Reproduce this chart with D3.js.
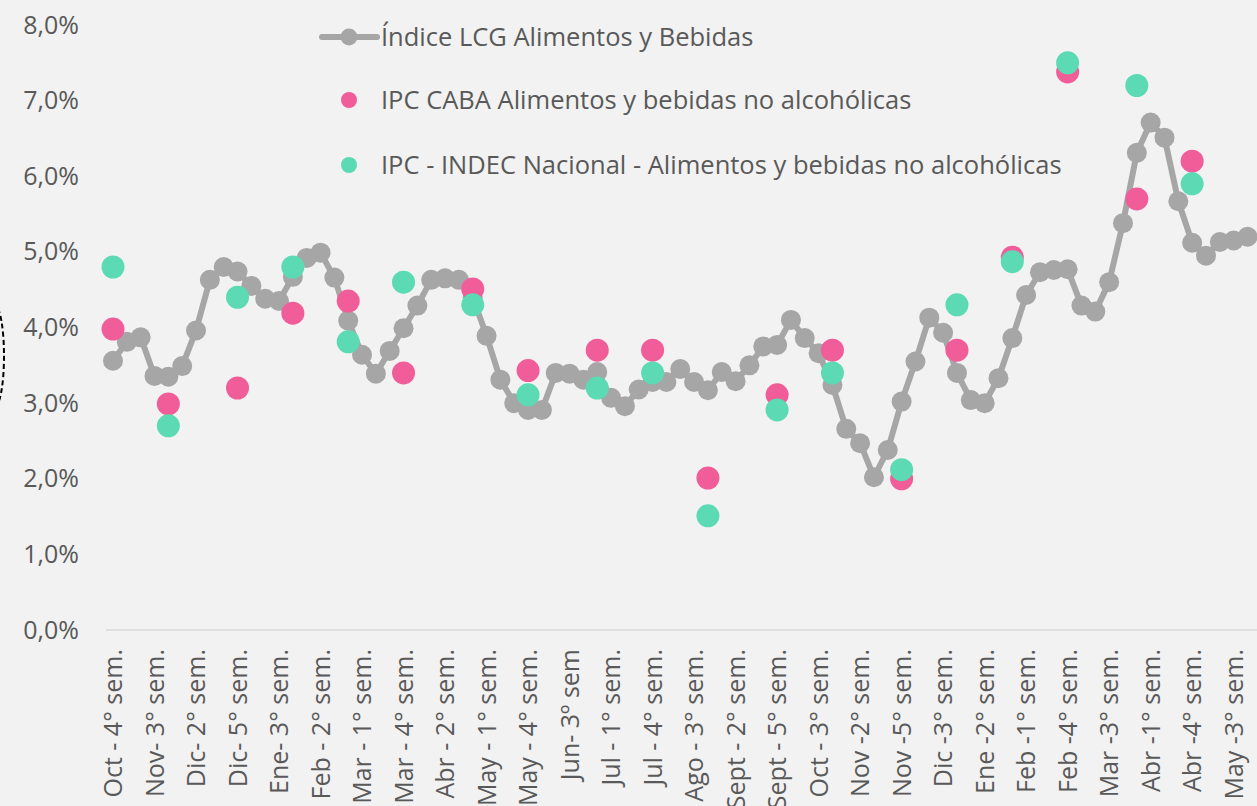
<!DOCTYPE html>
<html>
<head>
<meta charset="utf-8">
<script src="https://cdn.jsdelivr.net/npm/d3@7"></script>
<style>
  html, body { margin: 0; padding: 0; background: #f2f2f2; }
  svg { display: block; font-family: "Open Sans", sans-serif; }
</style>
</head>
<body>
<script>
// semanas (solo se rotula una de cada tres)
const categorias = [
  "Oct - 4° sem.", "Nov - 1° sem.", "Nov - 2° sem.", "Nov- 3° sem.", "Nov - 4° sem.",
  "Dic - 1° sem.", "Dic- 2° sem.", "Dic - 3° sem.", "Dic - 4° sem.", "Dic- 5° sem.",
  "Ene - 1° sem.", "Ene - 2° sem.", "Ene- 3° sem.", "Ene - 4° sem.", "Feb - 1° sem.",
  "Feb - 2° sem.", "Feb - 3° sem.", "Feb - 4° sem.", "Mar - 1° sem.", "Mar - 2° sem.",
  "Mar - 3° sem.", "Mar - 4° sem.", "Mar - 5° sem.", "Abr - 1° sem.", "Abr - 2° sem.",
  "Abr - 3° sem.", "Abr - 4° sem.", "May - 1° sem.", "May - 2° sem.", "May - 3° sem.",
  "May - 4° sem.", "Jun - 1° sem.", "Jun - 2° sem.", "Jun- 3º sem", "Jun - 4° sem.",
  "Jun - 5° sem.", "Jul - 1° sem.", "Jul - 2° sem.", "Jul - 3° sem.", "Jul - 4° sem.",
  "Ago - 1° sem.", "Ago - 2° sem.", "Ago - 3° sem.", "Ago - 4° sem.", "Sept - 1° sem.",
  "Sept - 2° sem.", "Sept - 3° sem.", "Sept - 4° sem.", "Sept - 5° sem.", "Oct - 1° sem.",
  "Oct - 2° sem.", "Oct - 3° sem.", "Oct - 4° sem.", "Nov - 1° sem.", "Nov -2° sem.",
  "Nov -3° sem.", "Nov -4° sem.", "Nov -5° sem.", "Dic -1° sem.", "Dic -2° sem.",
  "Dic -3° sem.", "Dic -4° sem.", "Ene -1° sem.", "Ene -2° sem.", "Ene -3° sem.",
  "Ene -4° sem.", "Feb -1° sem.", "Feb -2° sem.", "Feb -3° sem.", "Feb -4° sem.",
  "Mar -1° sem.", "Mar -2° sem.", "Mar -3° sem.", "Mar -4° sem.", "Mar -5° sem.",
  "Abr -1° sem.", "Abr -2° sem.", "Abr -3° sem.", "Abr -4° sem.", "May -1° sem.",
  "May -2° sem.", "May -3° sem.", "May -4° sem."
];

// Índice LCG semanal (%)
const lcg = [
  3.56, 3.81, 3.87, 3.36, 3.35, 3.49, 3.96, 4.63, 4.80, 4.74,
  4.55, 4.38, 4.35, 4.67, 4.92, 4.99, 4.66, 4.09, 3.64, 3.39,
  3.69, 3.99, 4.29, 4.63, 4.65, 4.63, 4.40, 3.89, 3.31, 3.00,
  2.91, 2.91, 3.40, 3.39, 3.31, 3.41, 3.07, 2.96, 3.18, 3.28,
  3.28, 3.45, 3.28, 3.17, 3.41, 3.29, 3.50, 3.75, 3.77, 4.10,
  3.86, 3.66, 3.24, 2.66, 2.47, 2.02, 2.38, 3.02, 3.55, 4.13,
  3.93, 3.40, 3.04, 3.00, 3.33, 3.86, 4.43, 4.73, 4.76, 4.77,
  4.29, 4.21, 4.60, 5.38, 6.31, 6.71, 6.51, 5.67, 5.12, 4.95,
  5.13, 5.15, 5.20
];

// IPC mensual, ubicado en la última semana de cada mes
const ipcSemana = [0, 4, 9, 13, 17, 21, 26, 30, 35, 39, 43, 48, 52, 57, 61, 65, 69, 74, 78];
const ipcCaba = [3.98, 2.99, 3.20, 4.19, 4.35, 3.40, 4.51, 3.43, 3.70, 3.70, 2.01, 3.11, 3.70, 2.00, 3.70, 4.93, 7.38, 5.70, 6.20];
const ipcIndec = [4.80, 2.70, 4.40, 4.80, 3.81, 4.60, 4.30, 3.11, 3.20, 3.40, 1.51, 2.91, 3.40, 2.12, 4.30, 4.87, 7.50, 7.20, 5.90];

const yTicks = [0, 1, 2, 3, 4, 5, 6, 7, 8];

const series = [
  { nombre: "Índice LCG Alimentos y Bebidas", color: "#a6a6a6" },
  { nombre: "IPC CABA Alimentos y bebidas no alcohólicas", color: "#f05d98" },
  { nombre: "IPC - INDEC Nacional - Alimentos y bebidas no alcohólicas", color: "#5bdab4" }
];

const width = 1257, height = 806;
const textColor = "#595959";

const svg = d3.select("body").append("svg")
  .attr("width", width)
  .attr("height", height);

svg.append("rect").attr("width", width).attr("height", height).attr("fill", "#f2f2f2");

const x = d3.scalePoint()
  .domain(d3.range(categorias.length))
  .range([113, 1247.5]);

const y = d3.scaleLinear()
  .domain([0, 8])
  .range([630, 25]);

// línea base
svg.append("line")
  .attr("x1", 106).attr("x2", width)
  .attr("y1", y(0)).attr("y2", y(0))
  .attr("stroke", "#d9d9d9").attr("stroke-width", 1.5);

// eje x
const xAxis = svg.append("g")
  .attr("transform", `translate(0,${y(0)})`)
  .call(d3.axisBottom(x)
    .tickValues(d3.range(0, categorias.length, 3))
    .tickFormat(i => categorias[i])
    .tickSize(0));
xAxis.select(".domain").remove();
xAxis.selectAll("text")
  .attr("x", -19)
  .attr("y", 0)
  .attr("dy", "0.35em")
  .attr("transform", "rotate(-90)")
  .style("text-anchor", "end")
  .style("font-size", "25px")
  .style("font-family", "'Open Sans', sans-serif")
  .attr("fill", textColor);

// eje y
const yAxis = svg.append("g")
  .attr("transform", "translate(88,0)")
  .call(d3.axisLeft(y)
    .tickValues(yTicks)
    .tickFormat(d => d.toFixed(1).replace(".", ",") + "%")
    .tickSize(0)
    .tickPadding(9));
yAxis.select(".domain").remove();
yAxis.selectAll("text")
  .style("font-size", "25px")
  .style("font-family", "'Open Sans', sans-serif")
  .attr("fill", textColor);

// serie LCG
const line = d3.line()
  .x((d, i) => x(i))
  .y(d => y(d));

svg.append("path")
  .datum(lcg)
  .attr("d", line)
  .attr("fill", "none")
  .attr("stroke", series[0].color)
  .attr("stroke-width", 6)
  .attr("stroke-linejoin", "round");

svg.append("g").selectAll("circle")
  .data(lcg)
  .join("circle")
  .attr("cx", (d, i) => x(i))
  .attr("cy", d => y(d))
  .attr("r", 10)
  .attr("fill", series[0].color);

// IPC CABA
svg.append("g").selectAll("circle")
  .data(ipcCaba)
  .join("circle")
  .attr("cx", (d, i) => x(ipcSemana[i]))
  .attr("cy", d => y(d))
  .attr("r", 11.5)
  .attr("fill", series[1].color);

// IPC INDEC
svg.append("g").selectAll("circle")
  .data(ipcIndec)
  .join("circle")
  .attr("cx", (d, i) => x(ipcSemana[i]))
  .attr("cy", d => y(d))
  .attr("r", 11.5)
  .attr("fill", series[2].color);

// leyenda
const legend = svg.append("g");
const legendY = [37, 100, 165];

legend.append("line")
  .attr("x1", 322).attr("x2", 377)
  .attr("y1", legendY[0]).attr("y2", legendY[0])
  .attr("stroke", series[0].color)
  .attr("stroke-width", 6)
  .attr("stroke-linecap", "round");
legend.append("circle")
  .attr("cx", 349).attr("cy", legendY[0]).attr("r", 8.5)
  .attr("fill", series[0].color);
legend.append("circle")
  .attr("cx", 349).attr("cy", legendY[1]).attr("r", 8)
  .attr("fill", series[1].color);
legend.append("circle")
  .attr("cx", 349).attr("cy", legendY[2]).attr("r", 8)
  .attr("fill", series[2].color);

legend.selectAll("text")
  .data(series)
  .join("text")
  .attr("x", 381)
  .attr("y", (d, i) => legendY[i])
  .attr("dy", "0.35em")
  .style("font-size", "25.5px")
  .attr("fill", textColor)
  .text(d => d.nombre);

// marca punteada en el borde izquierdo
svg.append("ellipse")
  .attr("cx", -5).attr("cy", 356)
  .attr("rx", 9).attr("ry", 50)
  .attr("fill", "none")
  .attr("stroke", "#000")
  .attr("stroke-width", 2)
  .attr("stroke-dasharray", "5,3");
</script>
</body>
</html>
